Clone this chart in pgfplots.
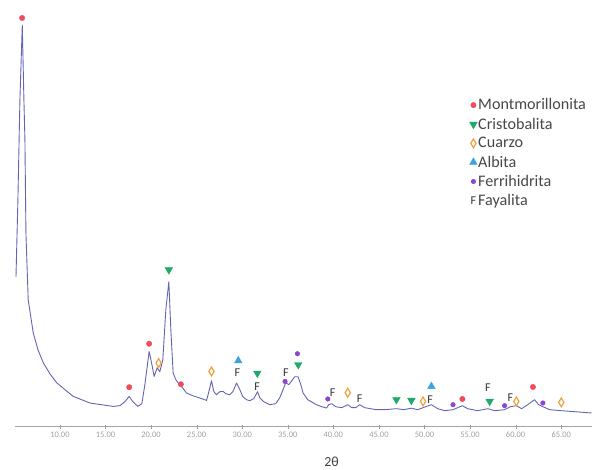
\documentclass[border=0pt]{standalone}
\usepackage{pgfplots}
\pgfplotsset{compat=1.18}
\usepackage{fontspec}
\setmainfont{Carlito}
\definecolor{curve}{HTML}{6464B4}
\definecolor{mred}{HTML}{EF4B5A}
\definecolor{mgreen}{HTML}{1DAA6A}
\definecolor{morange}{HTML}{F2A03C}
\definecolor{mblue}{HTML}{3BA3DD}
\definecolor{mpurple}{HTML}{8B44D6}
\definecolor{mdark}{HTML}{333333}
\begin{document}
\begin{tikzpicture}
\begin{axis}[
  scale only axis, width=577bp, height=427bp,
  xmin=5.07, xmax=68.33, ymin=0, ymax=427,
  axis x line=bottom, axis y line=none,
  x axis line style={-, color=gray!70},
  xtick={10,15,...,65},
  xtick style={color=gray!80},
  tick align=center, major tick length=4bp,
  xticklabel style={font=\fontsize{8.5}{9}\selectfont, text=gray!75},
  /pgf/number format/.cd, fixed, fixed zerofill, precision=2, assume math mode=true,
  /pgfplots/.cd,
  clip=false,
  legend style={draw=none, fill=none, at={(rel axis cs:0.783,0.776)}, anchor=north west,
    font=\fontsize{16.2}{17}\selectfont, text=mdark!90, row sep=4.6bp,
    nodes={inner sep=1bp}},
  legend cell align=left,
  legend image code/.code={\draw[#1] plot coordinates {(0.1cm,0cm)};},
]
\addplot[color=curve, line width=0.9pt, line join=round, forget plot] coordinates {
(5.18,150) (5.39,227) (5.61,327) (5.87,402) (6.05,327) (6.16,287) (6.27,194)
(6.52,127) (7.07,94) (7.59,77) (8.17,64) (8.90,53) (9.64,44) (10.55,37)
(11.46,30.3) (13.29,23.7) (14.93,21.5) (15.84,20.3) (16.58,21) (17.13,25)
(17.60,30.3) (18.0,25) (18.55,20.3) (18.99,23) (19.32,42) (19.79,75.3)
(20.03,65) (20.34,50.3) (20.67,59) (20.96,55) (21.29,67) (21.62,117)
(21.95,145) (22.17,97) (22.42,53.7) (22.72,47) (22.97,43.7) (23.27,41)
(23.89,33.7) (24.58,31) (25.35,28.7) (26.09,26.3) (26.34,35) (26.63,46)
(26.89,35) (27.18,32) (27.54,35) (27.91,35.3) (28.20,33) (28.64,32)
(28.97,35) (29.38,43.7) (29.74,37) (30.07,30) (30.47,27) (30.83,26)
(31.27,28) (31.68,35) (31.93,29) (32.37,25) (33.03,22) (33.68,23)
(34.12,29) (34.48,37) (34.78,44) (35.11,42) (35.44,46) (35.77,50)
(36.13,50) (36.43,42) (36.68,33.7) (37.19,27) (38.15,22) (38.73,20)
(39.24,18.7) (39.50,22) (39.82,23) (40.26,20) (40.92,19) (41.58,22)
(42.02,19) (42.46,19) (42.89,22) (43.44,19) (44.73,17) (45.64,17)
(46.92,18) (47.72,17) (48.56,18.5) (49.25,17) (49.84,19) (50.75,22)
(51.45,18) (52.21,16) (53.13,17) (54.16,21) (54.74,18) (55.83,16)
(56.96,18) (57.70,16) (58.79,17) (59.42,20) (60.08,21) (60.66,18)
(61.32,22) (62.08,27) (62.52,22) (62.99,20) (63.73,17) (65.01,16)
(66.47,15) (68.33,13.7)
};
\addplot[only marks, mark=*, mark size=2.7bp, color=mred] coordinates {
(5.85,409) (17.60,39.5) (19.79,83) (23.27,42.5) (54.16,27.7) (61.90,39.7)
};
\addlegendentry{Montmorillonita}
\addplot[only marks, mark=triangle*, mark size=4.4bp, mark options={rotate=180}, color=mgreen] coordinates {
(21.95,157) (31.66,53.5) (36.15,62) (46.92,27) (48.56,26.3) (57.15,25.3)
};
\addlegendentry{Cristobalita}
\addplot[only marks, mark=diamond, mark size=4.4bp, mark options={line width=1.2pt, xscale=0.8}, color=morange] coordinates {
(20.83,63.7) (26.63,55.3) (41.58,34) (49.84,25.3) (60.08,25.3) (65.01,24.3)
};
\addlegendentry{Cuarzo}
\addplot[only marks, mark=triangle*, mark size=4.4bp, color=mblue] coordinates {
(29.57,66) (50.76,40.3)
};
\addlegendentry{Albita}
\addplot[only marks, mark=*, mark size=2.3bp, color=mpurple] coordinates {
(34.70,45.3) (36.06,73) (39.39,27.7) (53.13,22) (58.79,21) (62.99,23.7)
};
\addlegendentry{Ferrihidrita}
\addplot[only marks, mark=text, text mark={\fontsize{12}{12}\selectfont\textcolor{mdark}{F}}, color=mdark] coordinates {
(29.46,54.3) (31.63,40.5) (34.78,53.7) (39.93,33.7) (42.89,27.7) (50.63,27) (56.96,38.7) (59.42,28.7)
};
\addlegendentry{Fayalita}
\node[font=\fontsize{14}{14}\selectfont, text=black!75] at (axis cs:39.8,-35) {2θ};
\end{axis}
\path[use as bounding box] (-15bp,-43bp) rectangle (577bp,427bp);
\end{tikzpicture}
\end{document}
